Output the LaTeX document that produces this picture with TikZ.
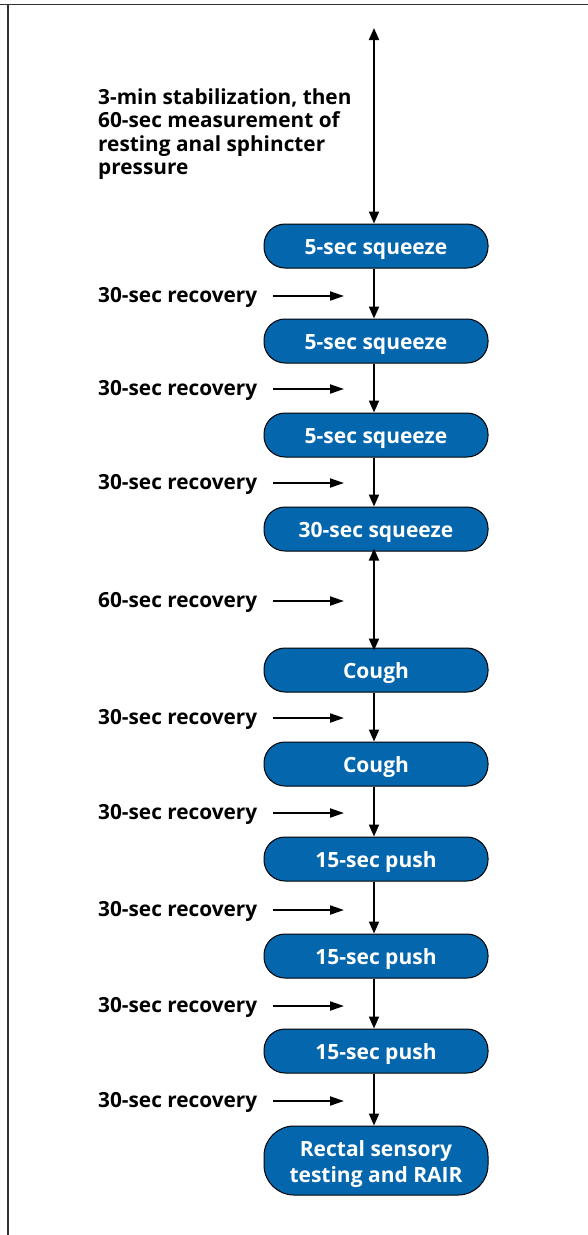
\documentclass[tikz,border=0pt]{standalone}
\usepackage{fontspec}
\setmainfont{Open Sans}
\usetikzlibrary{arrows.meta}
\definecolor{stepblue}{RGB}{4,102,172}
\definecolor{framegray}{RGB}{50,50,50}
\tikzset{
  stepbox/.style={draw=black, line width=1bp, fill=stepblue, rounded corners=21bp,
    minimum width=224bp, minimum height=44bp, inner sep=0pt,
    text=white, font=\fontsize{21bp}{26bp}\selectfont\bfseries, align=center},
  onestep/.style={stepbox, text height=20bp, text depth=4bp},
  note/.style={anchor=west, inner sep=0pt, text=black, yshift=-1.5bp,
    font=\fontsize{20.8bp}{24bp}\selectfont\bfseries},
  flow/.style={line width=2bp, -{Triangle[length=12bp,width=10bp]}},
  both/.style={line width=2bp, {Triangle[length=12bp,width=10bp]}-{Triangle[length=12bp,width=10bp]}},
  side/.style={line width=2bp, -{Triangle[length=14bp,width=9bp]}}
}
\begin{document}
\begin{tikzpicture}[x=1bp,y=-1bp]
  \useasboundingbox (0,0) rectangle (588,1235);
  % frame edges
  \draw[framegray, line width=1.6bp] (0,4.6) -- (588,4.6);
  \draw[framegray, line width=1.6bp] (7.8,4.6) -- (7.8,1235);

  % process steps
  \node[onestep] (s1) at (376,246) {5-sec squeeze};
  \node[onestep] (s2) at (376,341) {5-sec squeeze};
  \node[onestep] (s3) at (376,435) {5-sec squeeze};
  \node[onestep] (s4) at (376,529) {30-sec squeeze};
  \node[onestep] (s5) at (376,670) {Cough};
  \node[onestep] (s6) at (376,764) {Cough};
  \node[onestep] (s7) at (376,859) {15-sec push};
  \node[onestep] (s8) at (376,956) {15-sec push};
  \node[onestep] (s9) at (376,1051) {15-sec push};
  \node[stepbox, minimum height=69bp, rounded corners=30bp] (s10) at (376,1160.5)
    {\rule{0pt}{23bp}Rectal sensory\\testing and RAIR};

  % initial resting period
  \coordinate (top) at (374,28);
  \draw[both] (top) -- (s1.north -| top);
  \node[anchor=north west, inner sep=0pt, align=left,
        font=\fontsize{20.8bp}{23.6bp}\selectfont\bfseries] (rest) at (98,88)
    {3-min stabilization, then\\60-sec measurement of\\resting anal sphincter\\pressure};

  % connectors between steps
  \foreach \a/\b in {s1/s2,s2/s3,s3/s4,s5/s6,s6/s7,s7/s8,s8/s9,s9/s10}
    \draw[flow] (\a.south -| top) -- (\b.north -| top);
  \draw[both] ([yshift=3bp]s4.south -| top) -- ([yshift=-3bp]s5.north -| top);

  % recovery intervals
  \foreach \n/\y/\t in {r1/296/30-sec recovery, r2/389/30-sec recovery,
      r3/483/30-sec recovery, r4/601/60-sec recovery, r5/718/30-sec recovery,
      r6/813/30-sec recovery, r7/910/30-sec recovery, r8/1006/30-sec recovery,
      r9/1101/30-sec recovery} {
    \node[note] (\n) at (98,\y) {\t};
    \coordinate (\n e) at (344,\y);
    \draw[side] (273,\y) -- (\n e);
  }
\end{tikzpicture}
\end{document}
